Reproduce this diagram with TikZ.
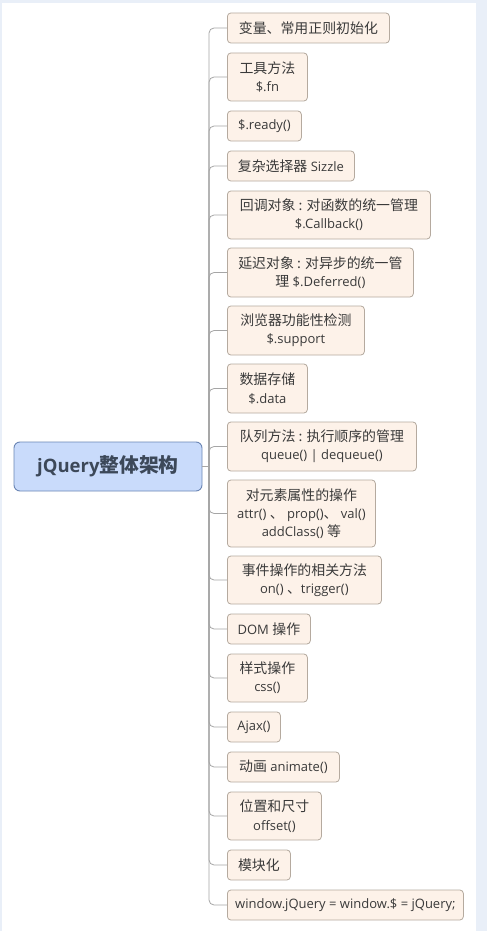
\documentclass[tikz,border=0pt]{standalone}
\usepackage{fontspec}
\setmainfont{Open Sans}
\newfontfamily\cjk{Noto Sans CJK SC}[Scale=1.07]
\definecolor{bgblue}{HTML}{E9EFF8}
\definecolor{leaffill}{HTML}{FDF2E9}
\definecolor{leafdraw}{HTML}{B5AA9F}
\definecolor{rootfill}{HTML}{C9DBFB}
\definecolor{rootdraw}{HTML}{6B86B5}
\definecolor{roottext}{HTML}{3C4859}
\definecolor{txt}{HTML}{3A3A3A}
\definecolor{linkc}{HTML}{A6A6A6}
\tikzset{
  leaf/.style={draw=leafdraw, fill=leaffill, rounded corners=3.5pt, anchor=west,
    align=center, inner sep=2pt, text=txt, line width=0.8pt,
    font=\fontsize{13}{18.3}\selectfont},
  rootbox/.style={draw=rootdraw, fill=rootfill, rounded corners=6pt, line width=0.9pt,
    text=roottext, font=\fontsize{18.5}{22}\selectfont\bfseries, inner sep=0pt},
  link/.style={draw=linkc, line width=0.8pt, rounded corners=5pt}
}
\begin{document}
\begin{tikzpicture}[x=1pt,y=-1pt]
\fill[bgblue] (0,0) rectangle (487,931);
\fill[white] (2,3) rectangle (476,931);
\useasboundingbox (0,0) rectangle (487,931);

\node[rootbox, minimum width=188pt, minimum height=49pt] (root) at (108,466.5) {jQuery{\cjk 整体架构}};
\coordinate (hub) at (209,466.5);

\node[leaf, minimum width=162pt, minimum height=30pt] (n1) at (227,28) {{\cjk 变量、常用正则初始化}};
\node[leaf, minimum width=80pt, minimum height=48pt] (n2) at (227,77) {{\cjk 工具方法}\\\$.fn};
\node[leaf, minimum width=74pt, minimum height=30pt] (n3) at (227,126) {\$.ready()};
\node[leaf, minimum width=127pt, minimum height=30pt] (n4) at (227,166) {{\cjk 复杂选择器} Sizzle};
\node[leaf, minimum width=203pt, minimum height=48pt] (n5) at (227,215) {{\cjk 回调对象 : 对函数的统一管理}\\\$.Callback()};
\node[leaf, minimum width=186pt, minimum height=49pt] (n6) at (227,272.5) {{\cjk 延迟对象 : 对异步的统一管}\\{\cjk 理} \$.Deferred()};
\node[leaf, minimum width=137pt, minimum height=49pt] (n7) at (227,330.5) {{\cjk 浏览器功能性检测}\\\$.support};
\node[leaf, minimum width=80pt, minimum height=49pt] (n8) at (227,388.5) {{\cjk 数据存储}\\\$.data};
\node[leaf, minimum width=189pt, minimum height=49pt] (n9) at (227,446.5) {{\cjk 队列方法 : 执行顺序的管理}\\queue() | dequeue()};
\node[leaf, minimum width=148pt, minimum height=67pt] (n10) at (227,513.5) {{\cjk 对元素属性的操作}\\attr() {\cjk 、} prop(){\cjk 、} val()\\addClass() {\cjk 等}};
\node[leaf, minimum width=154pt, minimum height=48pt] (n11) at (227,580) {{\cjk 事件操作的相关方法}\\on() {\cjk 、}trigger()};
\node[leaf, minimum width=83pt, minimum height=30pt] (n12) at (227,629) {DOM {\cjk 操作}};
\node[leaf, minimum width=80pt, minimum height=48pt] (n13) at (227,678) {{\cjk 样式操作}\\css()};
\node[leaf, minimum width=53pt, minimum height=30pt] (n14) at (227,727) {Ajax()};
\node[leaf, minimum width=112pt, minimum height=30pt] (n15) at (227,767) {{\cjk 动画} animate()};
\node[leaf, minimum width=94pt, minimum height=48pt] (n16) at (227,816) {{\cjk 位置和尺寸}\\offset()};
\node[leaf, minimum width=63pt, minimum height=30pt] (n17) at (227,865) {{\cjk 模块化}};
\node[leaf, minimum width=236pt, minimum height=30pt] (n18) at (227,905) {window.jQuery = window.\$ = jQuery;};

\draw[link] (root.east) -- (hub);
\foreach \n in {n1,n2,n3,n4,n5,n6,n7,n8,n9,n10,n11,n12,n13,n14,n15,n16,n17,n18}
  \draw[link] (\n.west) -| (hub);
\end{tikzpicture}
\end{document}
